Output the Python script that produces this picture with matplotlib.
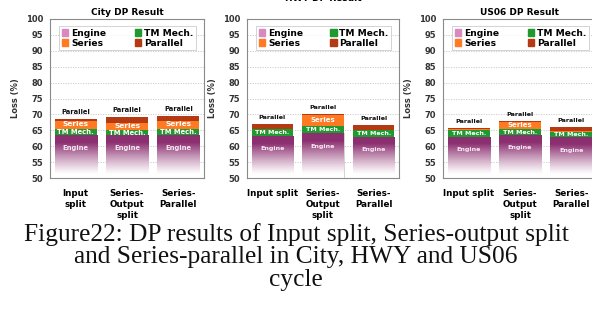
import numpy as np
import matplotlib
matplotlib.use("Agg")
import matplotlib.pyplot as plt
from matplotlib.patches import Patch

# ─── DATA ───────────────────────────────────────────────────────
cycles = ["City", "HWY", "US06"]
xlabels_city = ["Input\nsplit", "Series-\nOutput\nsplit", "Series-\nParallel"]
xlabels_other = ["Input split", "Series-\nOutput\nsplit", "Series-\nParallel"]

engine_city   = [63.5, 63.5, 63.5]
tm_city       = [1.8, 1.6, 1.8]
series_city   = [2.7, 2.1, 2.7]
parallel_city = [0.5, 1.9, 1.5]

engine_hwy   = [63.2, 64.0, 63.0]
tm_hwy       = [2.1, 2.4, 2.1]
series_hwy   = [0.2, 3.3, 0.1]
parallel_hwy = [1.5, 0.3, 1.5]

engine_us06   = [63.0, 63.5, 62.8]
tm_us06       = [2.1, 1.8, 1.8]
series_us06   = [0.4, 2.4, 0.1]
parallel_us06 = [0.1, 0.2, 1.2]

caption = ("Figure22: DP results of Input split, Series-output split\n"
           "and Series-parallel in City, HWY and US06\n"
           "cycle")

# ─── STYLE ──────────────────────────────────────────────────────
ENGINE   = "#8c2f70"
TM       = "#1f9a2e"
SERIES   = "#ff7a22"
PARALLEL = "#b33a12"
SPINE    = "#8a8a8a"
YMIN, YMAX = 50, 100


def engine_gradient():
    # white at the bottom, fading into the engine purple near the top
    v = np.linspace(0, 1, 200)[:, None]
    f = np.clip((v - 0.08) / 0.75, 0, 1) ** 1.2
    top = np.array(matplotlib.colors.to_rgb(ENGINE))
    rgb = (1 - f)[..., None] * np.ones(3) + f[..., None] * top
    return np.repeat(rgb, 2, axis=1)


def draw_panel(ax, title, engine, tm, series, parallel, xlabels, title_pad, fs):
    x = np.arange(len(engine))
    w = 0.82
    engine = np.array(engine)
    tm = np.array(tm)
    series = np.array(series)
    parallel = np.array(parallel)

    ax.set_axisbelow(True)
    ax.yaxis.grid(True, color="#c8c8c8", linestyle=(0, (1.5, 1.5)), linewidth=0.6)

    grad = engine_gradient()
    bars = ax.bar(x, engine, w, color="none", edgecolor="#c4c4c4", linewidth=0.5)
    for b, top in zip(bars, engine):
        im = ax.imshow(grad, extent=[b.get_x(), b.get_x() + w, YMIN, top],
                       origin="lower", aspect="auto", zorder=1.5)
        im.set_clip_path(b)
    ax.bar(x, tm, w, bottom=engine, color=TM, linewidth=0)
    ax.bar(x, series, w, bottom=engine + tm, color=SERIES, linewidth=0)
    ax.bar(x, parallel, w, bottom=engine + tm + series, color=PARALLEL, linewidth=0)

    tops = engine + tm + series + parallel
    for i in x:
        ax.text(i, engine[i] - 4.0, "Engine", ha="center", va="center",
                color="#f6e8f2", fontsize=fs, fontweight="bold")
        ax.text(i, engine[i] + tm[i] / 2, "TM Mech.", ha="center", va="center",
                color="white", fontsize=fs, fontweight="bold")
        if series[i] > 1:
            ax.text(i, engine[i] + tm[i] + series[i] / 2 + 0.2, "Series", ha="center",
                    va="center", color="white", fontsize=fs + 0.4, fontweight="bold")
        ax.annotate("Parallel", (i, tops[i]), xytext=(0, 3), textcoords="offset points",
                    ha="center", va="bottom", fontsize=fs, fontweight="bold", color="#111111")

    ax.set_xlim(-0.5, 2.5)
    ax.set_ylim(YMIN, YMAX)
    ax.set_yticks(range(50, 101, 5))
    ax.set_xticks(x)
    ax.set_xticklabels(xlabels, fontsize=6.3, fontweight="bold", linespacing=1.25)
    ax.tick_params(axis="y", length=0, labelsize=6, pad=5)
    ax.tick_params(axis="x", length=0, pad=8)
    for lab in ax.get_yticklabels():
        lab.set_fontweight("bold")
        lab.set_color("#333333")
    ax.set_ylabel("Loss (%)", fontsize=6, fontweight="bold", labelpad=4, color="#333333")
    ax.set_title(title, fontsize=6.5, fontweight="bold", pad=title_pad)
    for s in ax.spines.values():
        s.set_color(SPINE)
        s.set_linewidth(0.8)

    handles = [Patch(color="#d88ac0", label="Engine"), Patch(color=SERIES, label="Series"),
               Patch(color=TM, label="TM Mech."), Patch(color=PARALLEL, label="Parallel")]
    leg = ax.legend(handles=handles, ncol=2, loc="upper center", mode="expand",
                    bbox_to_anchor=(0.03, 0.985, 0.95, 0),
                    prop={"weight": "bold", "size": 6.6}, frameon=True, fancybox=False,
                    handlelength=0.7, handleheight=0.7, handletextpad=0.3,
                    labelspacing=0.1, borderpad=0.3, columnspacing=1.0)
    leg.get_frame().set_edgecolor("#c0c0c0")
    leg.get_frame().set_linewidth(0.6)


fig = plt.figure(figsize=(5.92, 3.16), dpi=100)
fig.patch.set_facecolor("white")

# axes positions in figure fraction (left, bottom, width, height)
ax_h = (178 - 19) / 316
ax_b = 1 - 178 / 316
ax1 = fig.add_axes([50 / 592, ax_b, 154 / 592, ax_h])
ax2 = fig.add_axes([247 / 592, ax_b, 152 / 592, ax_h])
ax3 = fig.add_axes([443 / 592, ax_b, 154 / 592, ax_h])

draw_panel(ax1, "City DP Result", engine_city, tm_city, series_city, parallel_city,
           xlabels_city, 3, 4.9)
draw_panel(ax2, "HWY DP Result", engine_hwy, tm_hwy, series_hwy, parallel_hwy,
           xlabels_other, 13, 4.6)
draw_panel(ax3, "US06 DP Result", engine_us06, tm_us06, series_us06, parallel_us06,
           xlabels_other, 3, 4.6)

fig.text(0.5, 1 - 223 / 316, caption, ha="center", va="top", family="Liberation Serif",
         fontsize=18.3, linespacing=1.02, color="#111111")

plt.savefig("out.png", dpi=100, facecolor=fig.get_facecolor())
